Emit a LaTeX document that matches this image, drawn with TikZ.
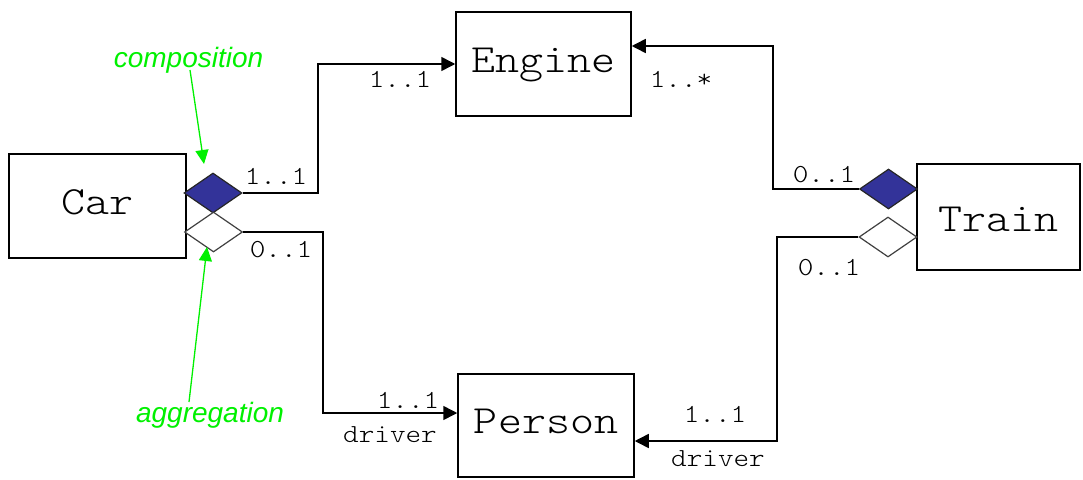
\documentclass[tikz,border=0pt]{standalone}
\usepackage{fontspec}
\setmainfont{lmmonolt10-regular.otf}[FakeStretch=1.143]
\newfontfamily\gsans{Liberation Sans}
\usetikzlibrary{shapes.geometric,arrows.meta}
\definecolor{dblue}{RGB}{51,51,153}
\definecolor{lgreen}{RGB}{0,240,0}
\tikzset{
  cls/.style={draw=black,line width=1.5pt,inner sep=0pt,font=\fontsize{40}{40}\selectfont,text height=22pt,text depth=6pt},
  comp/.style={diamond,draw=black!85,line width=1.2pt,fill=dblue,inner sep=0pt,minimum width=58pt,minimum height=40pt},
  aggr/.style={diamond,draw=black!75,line width=1.2pt,fill=white,inner sep=0pt,minimum width=58pt,minimum height=40pt},
  assoc/.style={draw=black,line width=1.5pt,-{Triangle[length=14pt,width=14pt]}},
  mult/.style={anchor=base,inner sep=0pt,font=\fontsize{26}{26}\selectfont},
  note/.style={anchor=base,inner sep=0pt,text=lgreen,font=\gsans\itshape\fontsize{28}{28}\selectfont},
  notearrow/.style={draw=lgreen,line width=1.3pt,-{Triangle[length=14pt,width=13pt]}}
}
\begin{document}
\begin{tikzpicture}[x=1pt,y=-1pt]
\useasboundingbox (0,0) rectangle (1083,479);
% classes
\node[cls,minimum width=177pt,minimum height=104pt] (car) at (97.5,206) {Car};
\node[cls,minimum width=175pt,minimum height=104pt] (engine) at (543.5,64) {Engine};
\node[cls,minimum width=176pt,minimum height=103pt] (person) at (546,425.5) {Person};
\node[cls,minimum width=163pt,minimum height=106pt,text height=28pt,text depth=0pt] (train) at (998.5,217) {Train};
% diamonds
\node[comp] (cd) at (213,193) {};
\node[aggr] (ch) at (213.5,232) {};
\node[comp] (td) at (888.5,189) {};
\node[aggr] (th) at (888,237) {};
% bend coordinates
\coordinate (c1) at (318,0);
\coordinate (c2) at (773,0);
\coordinate (c3) at (323,0);
\coordinate (c4) at (777,0);
\coordinate (engR) at ([yshift=18pt]engine.east);
\coordinate (perL) at ([yshift=12.5pt]person.west);
\coordinate (perR) at ([yshift=-15.5pt]person.east);
% associations
\draw[assoc] (cd.east) -- (cd.east -| c1) |- (engine.west);
\draw[assoc] (ch.east) -- (ch.east -| c3) |- (perL);
\draw[assoc] (td.west) -- (td.west -| c2) |- (engR);
\draw[assoc] (th.west) -- (th.west -| c4) |- (perR);
% multiplicities
\node[mult] (m1) at (276,184) {1..1};
\node[mult] (m2) at (281,257) {0..1};
\node[mult] (m3) at (400,87) {1..1};
\node[mult] (m4) at (681,87) {1..*};
\node[mult] (m5) at (824,182) {0..1};
\node[mult] (m6) at (829,275) {0..1};
\node[mult] (m7) at (408,408) {1..1};
\node[mult] (m8) at (390,442) {driver};
\node[mult] (m9) at (715,422) {1..1};
\node[mult] (m10) at (718,466) {driver};
% notes
\node[note] (ncomp) at (188.5,67) {composition};
\node[note] (naggr) at (210,422) {aggregation};
\coordinate (scomp) at (190,70);
\coordinate (saggr) at (189,402);
\coordinate (tcomp) at (204,164);
\coordinate (taggr) at (207,247);
\draw[notearrow] (scomp) -- (tcomp);
\draw[notearrow] (saggr) -- (taggr);
\end{tikzpicture}
\end{document}
